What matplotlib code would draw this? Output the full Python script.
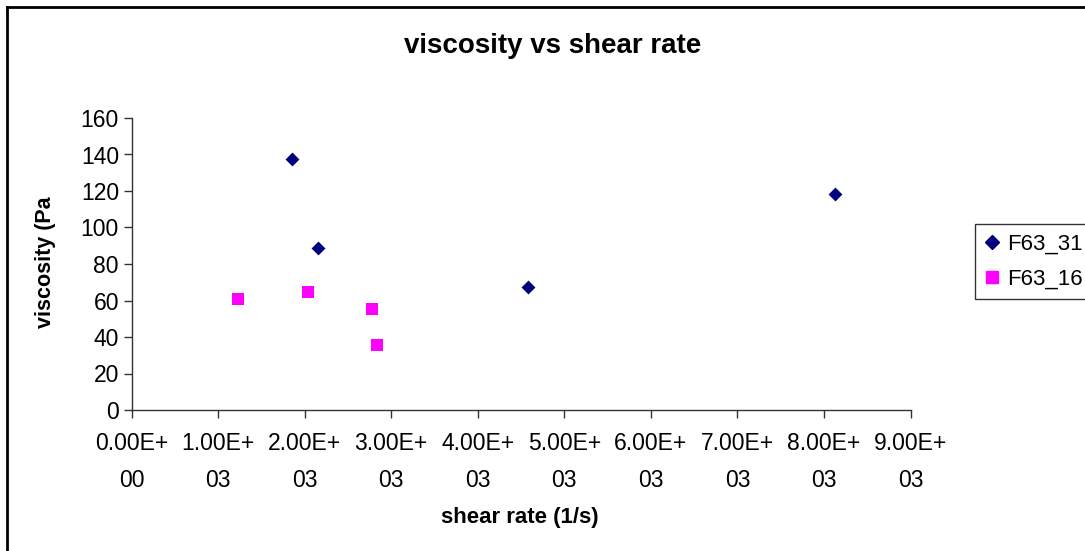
import matplotlib
matplotlib.use("Agg")
import matplotlib.pyplot as plt
from matplotlib.lines import Line2D

plt.rcParams['font.family'] = ['Liberation Sans', 'DejaVu Sans']

# Data
f63_31_x = [1860, 2150, 4580, 8130]
f63_31_y = [137.7, 88.8, 67.2, 118.2]
f63_16_x = [1235, 2035, 2775, 2840]
f63_16_y = [60.8, 64.8, 55.2, 35.6]
x_ticks = [0, 1000, 2000, 3000, 4000, 5000, 6000, 7000, 8000, 9000]
x_tick_labels = ["0.00E+\n00", "1.00E+\n03", "2.00E+\n03", "3.00E+\n03", "4.00E+\n03",
                 "5.00E+\n03", "6.00E+\n03", "7.00E+\n03", "8.00E+\n03", "9.00E+\n03"]
y_ticks = [0, 20, 40, 60, 80, 100, 120, 140, 160]

W, H = 1085, 551
fig = plt.figure(figsize=(W / 100, H / 100), dpi=100)
ax = fig.add_axes([131.5 / W, 1 - 410 / H, (910.5 - 131.5) / W, (410 - 118) / H])

ax.scatter(f63_31_x, f63_31_y, marker='D', s=50, color='#000080', zorder=3, linewidths=0)
ax.scatter(f63_16_x, f63_16_y, marker='s', s=70, color='#FF00FF', zorder=3, linewidths=0)

ax.set_xlim(0, 9000)
ax.set_ylim(0, 160)
ax.set_xticks(x_ticks)
ax.set_xticklabels(x_tick_labels, fontsize=16.5, linespacing=1.75)
ax.set_yticks(y_ticks)
ax.set_yticklabels([str(v) for v in y_ticks], fontsize=16.5)
ax.spines['top'].set_visible(False)
ax.spines['right'].set_visible(False)
for s in ['left', 'bottom']:
    ax.spines[s].set_color('#333333')
    ax.spines[s].set_linewidth(1.0)
ax.tick_params(axis='both', direction='out', length=6, color='#333333', width=1.0)
ax.tick_params(axis='x', pad=10)
ax.tick_params(axis='y', pad=3)

fig.text(553 / W, 1 - 46 / H, "viscosity vs shear rate", ha='center', va='center',
         fontsize=20, fontweight='bold')
fig.text(520 / W, 1 - 517 / H, "shear rate (1/s)", ha='center', va='center',
         fontsize=16, fontweight='bold')
fig.text(45 / W, 1 - 262 / H, "viscosity (Pa", ha='center', va='center',
         fontsize=15.5, fontweight='bold', rotation=90)

# Legend
handles = [Line2D([], [], marker='D', color='#000080', linestyle='none', markersize=7),
           Line2D([], [], marker='s', color='#FF00FF', linestyle='none', markersize=8)]
leg = fig.legend(handles, ["F63_31", "F63_16"], loc='upper left',
                 bbox_to_anchor=(975 / W, 1 - 224 / H), fontsize=16, frameon=True,
                 fancybox=False, edgecolor='black', handlelength=0.6, handletextpad=0.4,
                 borderpad=0.45, labelspacing=0.6, borderaxespad=0)
leg.get_frame().set_linewidth(1.0)

# Outer chart border (left and top visible)
fig.add_artist(Line2D([6.5 / W, 6.5 / W], [0, 1 - 6.5 / H], color='black', linewidth=2.0,
                      transform=fig.transFigure))
fig.add_artist(Line2D([6.5 / W, 1], [1 - 6.5 / H, 1 - 6.5 / H], color='black', linewidth=2.0,
                      transform=fig.transFigure))

fig.savefig("out.png", dpi=100)
